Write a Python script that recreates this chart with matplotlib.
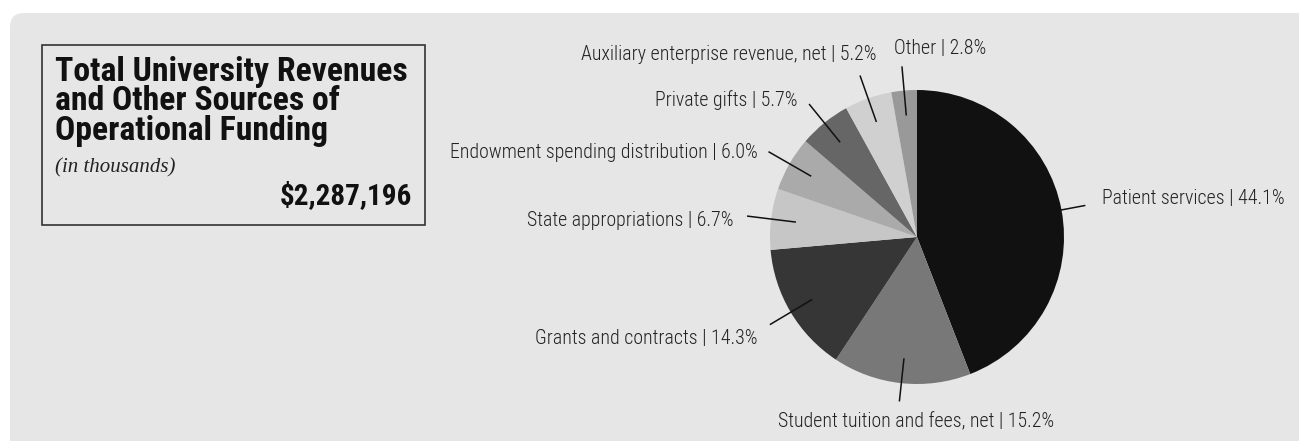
import matplotlib
matplotlib.use("Agg")
import matplotlib.pyplot as plt
import numpy as np
from matplotlib import font_manager
from matplotlib.patches import FancyBboxPatch, Rectangle

# ---- data ----
categories = ["Patient services", "Student tuition and fees, net", "Grants and contracts",
              "State appropriations", "Endowment spending distribution", "Private gifts",
              "Auxiliary enterprise revenue, net", "Other"]
shares = [44.1, 15.2, 14.3, 6.7, 6.0, 5.7, 5.2, 2.8]
colors = ["#111111", "#787878", "#363636", "#c6c6c6", "#aaaaaa", "#666666", "#d0d0d0", "#999999"]
title_lines = ["Total University Revenues", "and Other Sources of", "Operational Funding"]
subtitle = "(in thousands)"
total_text = "$2,287,196"

# ---- fonts ----
names = {f.name for f in font_manager.fontManager.ttflist}
def pick(cands):
    for c in cands:
        if c in names:
            return c
    return "DejaVu Sans"
title_font = pick(["Roboto Condensed", "Open Sans", "DejaVu Sans"])
label_font = pick(["Roboto Condensed", "Liberation Sans Narrow", "Roboto", "DejaVu Sans"])
serif = pick(["Liberation Serif", "DejaVu Serif"])

W, H = 1299, 441
fig = plt.figure(figsize=(W / 100, H / 100), dpi=100)
fig.patch.set_facecolor("white")
ax = fig.add_axes([0, 0, 1, 1])

def Y(y):  # pixel-from-top -> data
    return H - y

# background panel
ax.add_patch(FancyBboxPatch((10, Y(470)), 1320, 457, boxstyle="round,pad=0,rounding_size=14",
                            facecolor="#e6e6e6", edgecolor="none", zorder=0))

# title box
ax.add_patch(Rectangle((42, Y(225)), 383, 180, facecolor="none", edgecolor="#333333", lw=1.2, zorder=2))
for i, line in enumerate(title_lines):
    ax.text(55, Y(81 + 29.5 * i), line, fontsize=24.3, fontweight="bold", family=title_font,
            ha="left", va="baseline", color="#111111", zorder=3)
ax.text(55, Y(172), subtitle, fontsize=15, style="italic", family=serif,
        ha="left", va="baseline", color="#222222", zorder=3)
ax.text(412, Y(204), total_text, fontsize=21, fontweight="bold", family=title_font,
        ha="right", va="baseline", color="#111111", zorder=3)

# pie
cx, cy, R = 917, Y(237), 147
wedges, _ = ax.pie(shares, colors=colors, startangle=90, counterclock=False,
                   center=(cx, cy), radius=R, frame=True,
                   wedgeprops=dict(linewidth=0, edgecolor="none"))
ax.set_xlim(0, W)
ax.set_ylim(0, H)
ax.set_aspect("equal")
ax.axis("off")

# label anchor positions (pixels from top-left) and alignment
label_pos = [(1102, 198, "left"), (916, 422, "center"), (758, 338, "right"), (734, 220, "right"),
             (758, 153, "right"), (798, 100, "right"), (877, 54, "right"), (894, 48, "left")]
r_out = [1.16, 1.12, 1.16, 1.16, 1.16, 1.16, 1.16, 1.16]
for w, name, val, (lx, ly, ha), ro in zip(wedges, categories, shares, label_pos, r_out):
    ang = np.deg2rad((w.theta1 + w.theta2) / 2)
    x1, y1 = cx + 0.835 * R * np.cos(ang), cy + 0.835 * R * np.sin(ang)
    x2, y2 = cx + ro * R * np.cos(ang), cy + ro * R * np.sin(ang)
    ax.plot([x1, x2], [y1, y2], color="#111111", lw=1.1, zorder=4)
    ax.text(lx, Y(ly), f"{name} | {val:.1f}%", fontsize=14.3, fontweight="light", family=label_font,
            ha=ha, va="center", color="#222222", zorder=4)

fig.savefig("out.png", dpi=100, facecolor=fig.get_facecolor())
